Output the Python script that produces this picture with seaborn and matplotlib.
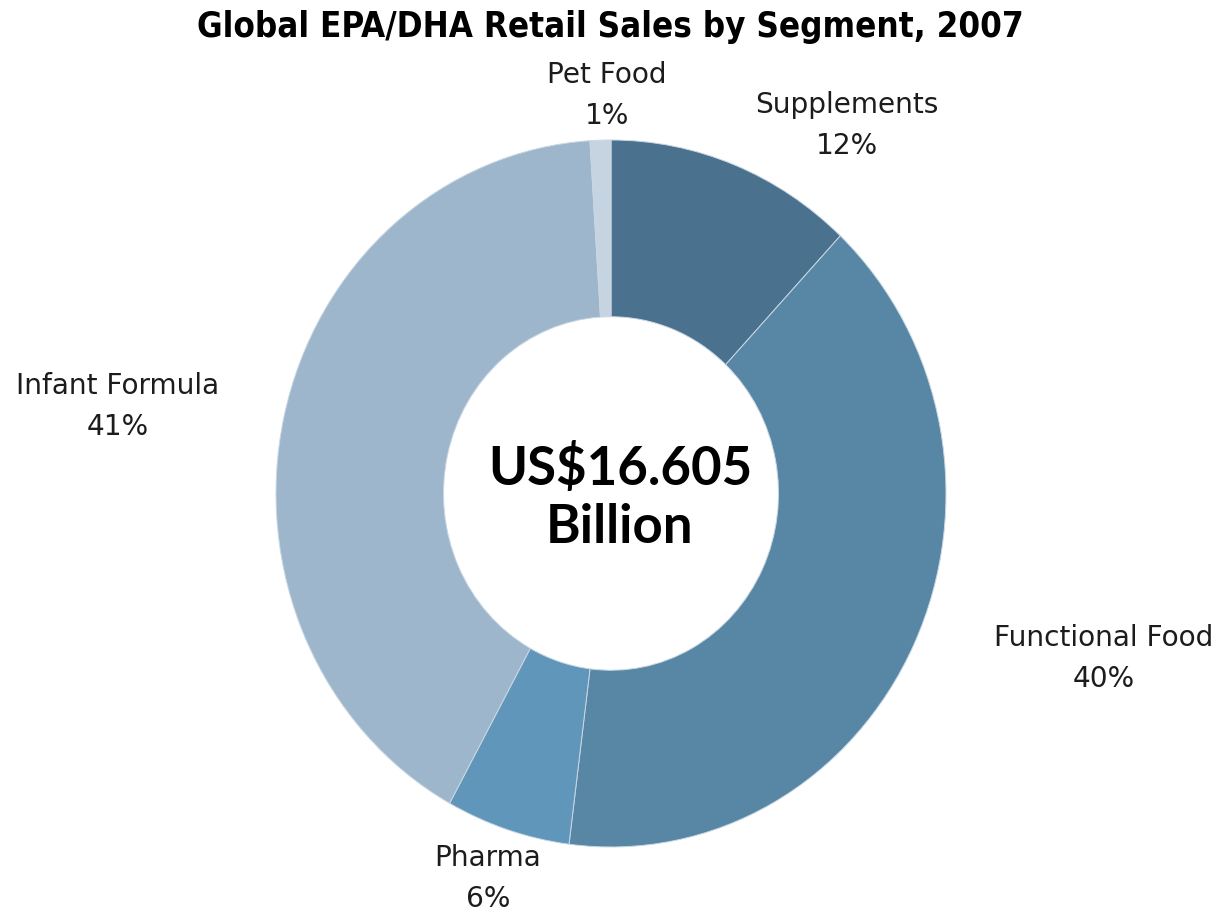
import matplotlib
matplotlib.use("Agg")
import matplotlib.pyplot as plt
import seaborn as sns

sns.set_theme(style="white")
plt.rcParams["font.family"] = ["DejaVu Sans"]

segments = ["Supplements", "Functional Food", "Pharma", "Infant Formula", "Pet Food"]
shares = [12, 40, 6, 41, 1]
colors = ["#4a718e", "#5887a6", "#6096b9", "#9db6cc", "#c5d4e0"]
total_label = "US$16.605\nBillion"
title = "Global EPA/DHA Retail Sales by Segment, 2007"

# label anchor points in data units (pie radius = 1)
label_pos = {
    "Supplements": (0.704, 1.04),
    "Functional Food": (1.472, -0.467),
    "Pharma": (-0.367, -1.088),
    "Infant Formula": (-1.472, 0.246),
    "Pet Food": (-0.012, 1.127),
}

W, H = 1221, 913
fig = plt.figure(figsize=(W / 100, H / 100), dpi=100)
ax = fig.add_axes([276 / W, (H - 847) / H, 670 / W, 707 / H])

ax.pie(
    shares,
    colors=colors,
    startangle=90,
    counterclock=False,
    radius=1,
    wedgeprops=dict(width=0.5, edgecolor="#c9d7e3", linewidth=0.7),
)
ax.set_aspect("auto")
ax.set_xlim(-1, 1)
ax.set_ylim(-1, 1)
ax.axis("off")

for name, val in zip(segments, shares):
    x, y = label_pos[name]
    ax.text(x, y, f"{name}\n{val}%", ha="center", va="center",
            fontsize=20.2, color="#1c1c1c",
            linespacing=1.6, clip_on=False)

ax.text(0.027, -0.011, total_label, ha="center", va="center",
        fontsize=38, fontweight="bold", color="black", linespacing=1.22,
        family=["Lato", "DejaVu Sans"])

fig.text(0.5, 1 - 27 / H, title, ha="center", va="center",
         fontsize=25, fontweight="bold", fontstretch="condensed", color="black")

fig.savefig("out.png", dpi=100, facecolor="white")
